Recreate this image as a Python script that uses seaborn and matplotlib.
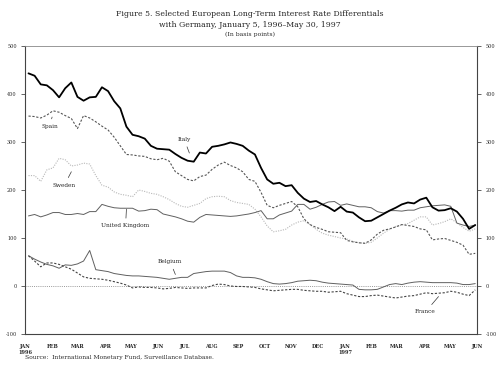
import numpy as np
import pandas as pd
import matplotlib
matplotlib.use("Agg")
import matplotlib.pyplot as plt
import matplotlib.dates as mdates
import seaborn as sns

dates = pd.date_range("1996-01-05", periods=74, freq="7D")

italy = [443, 438, 420, 418, 408, 393, 412, 424, 394, 386, 393, 394, 414, 406, 385, 370,
         332, 315, 312, 307, 292, 286, 285, 284, 275, 267, 261, 259, 278, 276, 290, 292,
         295, 299, 296, 292, 282, 274, 246, 222, 213, 215, 208, 210, 194, 182, 175, 177,
         170, 164, 156, 165, 155, 153, 143, 135, 136, 143, 150, 157, 163, 170, 174, 172,
         180, 184, 164, 157, 158, 162, 155, 140, 119, 127]
spain = [354, 353, 350, 356, 365, 362, 355, 349, 328, 355, 350, 342, 333, 325, 310, 292,
         274, 273, 271, 270, 265, 263, 266, 260, 238, 230, 222, 219, 228, 231, 243, 252,
         258, 251, 246, 238, 222, 218, 195, 168, 163, 168, 172, 176, 165, 140, 128, 122,
         118, 113, 112, 111, 95, 92, 90, 89, 96, 108, 116, 119, 123, 128, 126, 124,
         119, 117, 96, 98, 99, 95, 91, 85, 66, 68]
sweden = [230, 230, 218, 242, 246, 266, 263, 250, 252, 256, 254, 230, 210, 206, 196, 191,
          189, 186, 200, 197, 193, 191, 186, 180, 172, 166, 164, 168, 172, 182, 186, 187,
          186, 178, 174, 172, 170, 160, 144, 125, 113, 115, 118, 127, 133, 136, 128, 118,
          110, 106, 103, 100, 98, 93, 90, 89, 91, 100, 110, 118, 124, 127, 130, 137,
          144, 144, 127, 130, 134, 140, 132, 122, 114, 119]
uk = [146, 149, 144, 148, 153, 153, 149, 149, 151, 149, 155, 155, 170, 166, 163, 162,
      162, 162, 156, 157, 160, 159, 150, 147, 144, 140, 135, 133, 143, 149, 148, 147,
      146, 145, 146, 148, 150, 153, 157, 140, 140, 148, 152, 156, 170, 170, 160, 164,
      170, 175, 176, 168, 171, 168, 165, 165, 163, 155, 152, 157, 157, 156, 158, 158,
      163, 165, 167, 168, 169, 166, 131, 127, 124, 127]
belgium = [63, 56, 50, 45, 42, 37, 44, 43, 46, 52, 74, 34, 32, 30, 26, 24,
           22, 21, 21, 20, 19, 18, 16, 14, 16, 18, 18, 26, 28, 30, 31, 31,
           31, 28, 21, 18, 18, 17, 14, 9, 5, 4, 5, 7, 10, 11, 12, 11,
           8, 6, 5, 4, 3, 2, -7, -8, -8, -7, -2, 3, 5, 3, 6, 8,
           9, 8, 7, 7, 7, 7, 6, 3, 3, 5]
france = [63, 52, 40, 48, 48, 45, 40, 35, 27, 19, 16, 15, 14, 12, 9, 6,
          2, -4, -2, -3, -3, -4, -6, -5, -3, -4, -5, -4, -4, -4, 1, 4,
          3, 0, -1, -1, -2, -3, -6, -8, -10, -9, -8, -7, -7, -9, -10, -11,
          -11, -13, -12, -11, -16, -19, -22, -22, -20, -19, -21, -23, -25, -23, -21, -20,
          -17, -14, -16, -15, -14, -11, -13, -17, -20, -8]

month_labels = ["JAN\n1996", "FEB", "MAR", "APR", "MAY", "JUN", "JUL", "AUG", "SEP",
                "OCT", "NOV", "DEC", "JAN\n1997", "FEB", "MAR", "APR", "MAY", "JUN"]

df = pd.DataFrame({"date": dates, "Italy": italy, "Spain": spain, "Sweden": sweden,
                   "United Kingdom": uk, "Belgium": belgium, "France": france})

sns.set_style("white")
plt.rcParams["font.family"] = ["DejaVu Serif"]

fig = plt.figure(figsize=(5.0, 3.76), dpi=100)
ax = fig.add_axes([0.05, 0.1117, 0.904, 0.766])

styles = {
    "Sweden": dict(color="#b8b8b8", lw=0.8, ls=(0, (1, 1.2))),
    "Spain": dict(color="#555555", lw=0.8, ls=(0, (2, 1.5))),
    "United Kingdom": dict(color="#606060", lw=0.7, ls="-"),
    "Belgium": dict(color="#606060", lw=0.7, ls="-"),
    "France": dict(color="#444444", lw=0.8, ls=(0, (2, 1.5))),
    "Italy": dict(color="black", lw=1.3, ls="-"),
}
ax.axhline(0, color="#999999", lw=0.7, ls=(0, (1, 1.2)))
for name, st in styles.items():
    sns.lineplot(data=df, x="date", y=name, ax=ax, color=st["color"],
                 linewidth=st["lw"], linestyle=st["ls"])

ax.set_xlim(pd.Timestamp("1996-01-01"), pd.Timestamp("1997-06-01"))
ax.set_ylim(-100, 500)
ax.set_xlabel("")
ax.set_ylabel("")

month_starts = pd.date_range("1996-01-01", "1997-06-01", freq="MS")
ax.set_xticks(month_starts)
ax.set_xticklabels(month_labels, fontsize=3.6, fontweight="bold", va="top")
ax.xaxis.set_minor_locator(mdates.WeekdayLocator(byweekday=mdates.FR))
ax.tick_params(axis="x", which="major", direction="in", length=4, width=0.5, pad=7)
ax.tick_params(axis="x", which="minor", direction="in", length=2, width=0.5)
ax.set_yticks([-100, 0, 100, 200, 300, 400, 500])
ax.set_yticklabels(["-100", "0", "100", "200", "300", "400", "500"])
ax.tick_params(axis="y", which="major", left=True, right=True, labelleft=True,
               labelright=True, labelsize=3.5, length=3, width=0.5, direction="out", pad=3)

for side in ["left", "right", "bottom"]:
    ax.spines[side].set_color("#444444")
    ax.spines[side].set_linewidth(0.8)
ax.spines["top"].set_color("#888888")
ax.spines["top"].set_linewidth(0.6)

def lab(text, txy, xy):
    ax.annotate(text, xy=(pd.Timestamp(xy[0]), xy[1]), xytext=(pd.Timestamp(txy[0]), txy[1]),
                fontsize=4.2, ha="center", va="center",
                arrowprops=dict(arrowstyle="-", color="#333333", lw=0.5, shrinkA=1.5, shrinkB=0))

lab("Spain", ("1996-01-29", 332), ("1996-02-01", 352))
lab("Italy", ("1996-07-01", 306), ("1996-07-07", 277))
lab("Sweden", ("1996-02-15", 210), ("1996-02-23", 238))
lab("United Kingdom", ("1996-04-25", 125), ("1996-04-26", 160))
lab("Belgium", ("1996-06-15", 51), ("1996-06-21", 24))
lab("France", ("1997-04-03", -54), ("1997-04-18", -22))

fig.text(0.5, 0.962, "Figure 5. Selected European Long-Term Interest Rate Differentials",
         ha="center", va="center", fontsize=5.6)
fig.text(0.5, 0.933, "with Germany, January 5, 1996\u2013May 30, 1997",
         ha="center", va="center", fontsize=5.6)
fig.text(0.5, 0.909, "(In basis points)", ha="center", va="center", fontsize=4.4)
fig.text(0.05, 0.05, "Source:  International Monetary Fund, Surveillance Database.",
         ha="left", va="center", fontsize=4.3)

fig.savefig("out.png", dpi=100)
